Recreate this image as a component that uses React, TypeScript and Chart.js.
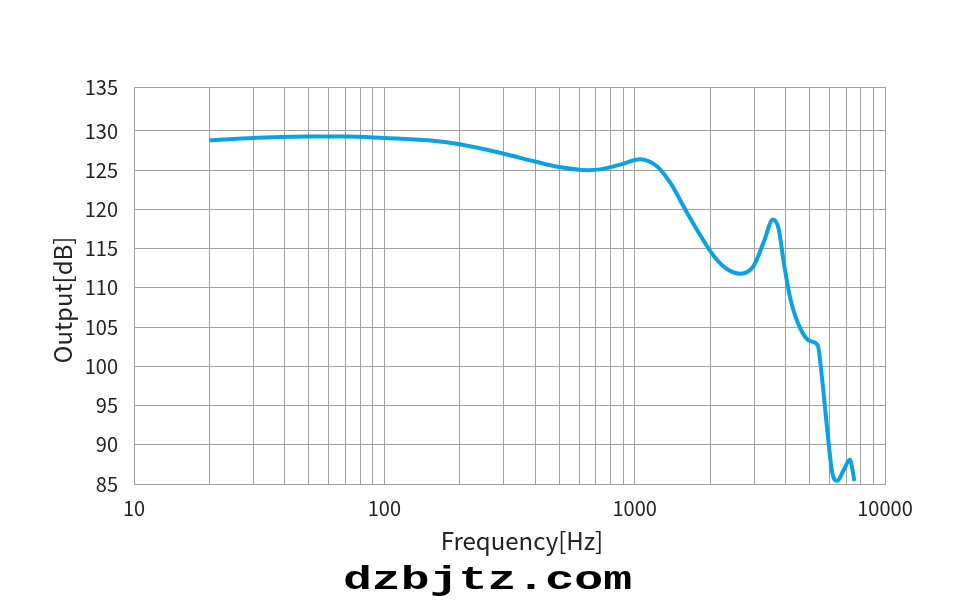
import React, { useEffect, useRef } from "react";
import { Chart, registerables } from "chart.js";

Chart.register(...registerables);

const frequencies = [
  20, 30, 50, 70, 100, 150, 200, 300, 400, 500, 650, 728, 875, 1052, 1227, 1387,
  1617, 1828, 2066, 2337, 2642, 2986, 3275, 3570, 3760, 3938, 4188, 4592, 5035,
  5384, 5607, 5871, 6149, 6440, 6843, 7233, 7551,
];
const outputDb = [
  128.8, 129.1, 129.3, 129.3, 129.1, 128.8, 128.3, 127.1, 126.1, 125.4, 125.0,
  125.1, 125.7, 126.4, 125.5, 123.4, 119.6, 116.7, 114.1, 112.4, 111.8, 112.8,
  115.8, 118.7, 117.5, 113.3, 108.6, 104.8, 103.2, 102.7, 98.4, 92.1, 86.5, 85.4,
  86.8, 88.1, 85.4,
];
const xGridValues = [
  10, 20, 30, 40, 50, 60, 70, 80, 90, 100, 200, 300, 400, 500, 600, 700, 800,
  900, 1000, 2000, 3000, 4000, 5000, 6000, 7000, 8000, 9000, 10000,
];
const xLabelValues = [10, 100, 1000, 10000];
const yTickValues = [85, 90, 95, 100, 105, 110, 115, 120, 125, 130];
const yTopLabel = "135";
const yMin = 85;
const yTop = 135.6;
const xTitle = "Frequency[Hz]";
const yTitle = "Output[dB]";
const watermark = "dzbjtz.com";

const FONT = "'Noto Sans CJK SC', 'Noto Sans', sans-serif";

const textPlugin = {
  id: "textPlugin",
  afterDraw(chart: any) {
    const ctx = chart.ctx;
    ctx.save();
    ctx.fillStyle = "#222";
    ctx.font = `24px ${FONT}`;
    ctx.textAlign = "center";
    ctx.textBaseline = "middle";
    ctx.fillText(xTitle, 522, 541);
    ctx.save();
    ctx.translate(63, 300);
    ctx.rotate(-Math.PI / 2);
    ctx.fillText(yTitle, 0, 0);
    ctx.restore();
    ctx.save();
    ctx.fillStyle = "#000";
    ctx.font = `bold 33px 'Liberation Mono', 'DejaVu Sans Mono', monospace`;
    ctx.textBaseline = "alphabetic";
    ctx.translate(487.5, 589);
    ctx.scale(1.46, 1);
    ctx.fillText(watermark, 0, 0);
    ctx.restore();
    ctx.restore();
  },
};

export default function App() {
  const ref = useRef<HTMLCanvasElement | null>(null);
  useEffect(() => {
    if (!ref.current) return;
    const chart = new Chart(ref.current, {
      type: "line",
      data: {
        datasets: [
          {
            data: frequencies.map((f, i) => ({ x: f, y: outputDb[i] })),
            borderColor: "#0aa2e0",
            borderWidth: 4,
            pointRadius: 0,
            fill: false,
            cubicInterpolationMode: "monotone",
          },
        ],
      },
      options: {
        responsive: false,
        animation: false,
        layout: { padding: { left: 0, top: 87, right: 91, bottom: 0 } },
        plugins: {
          legend: { display: false },
          tooltip: { enabled: false },
        },
        scales: {
          x: {
            type: "logarithmic",
            min: 10,
            max: 10000,
            afterBuildTicks: (scale: any) => {
              scale.ticks = xGridValues.map((v) => ({ value: v }));
            },
            afterFit: (scale: any) => {
              scale.height = 129;
            },
            grid: { color: "#a0a0a0", lineWidth: 1, drawTicks: false },
            border: { color: "#a0a0a0" },
            ticks: {
              autoSkip: false,
              maxRotation: 0,
              padding: 12,
              color: "#222",
              font: { family: FONT, size: 20 },
              callback: (v: any) =>
                xLabelValues.includes(Number(v)) ? String(v) : "",
            },
          },
          y: {
            type: "linear",
            min: yMin,
            max: yTop,
            afterBuildTicks: (scale: any) => {
              scale.ticks = [...yTickValues, yTop].map((v) => ({ value: v }));
            },
            afterFit: (scale: any) => {
              scale.width = 134;
            },
            grid: { color: "#a0a0a0", lineWidth: 1, drawTicks: false },
            border: { color: "#a0a0a0" },
            ticks: {
              autoSkip: false,
              padding: 16,
              color: "#222",
              font: { family: FONT, size: 20 },
              callback: (v: any) =>
                Number(v) === yTop ? yTopLabel : String(v),
            },
          },
        },
      },
      plugins: [textPlugin],
    });
    return () => chart.destroy();
  }, []);
  return (
    <div style={{ position: "fixed", left: 0, top: 0, width: 976, height: 613, background: "#fff" }}>
      <canvas ref={ref} width={976} height={613} style={{ display: "block" }} />
    </div>
  );
}
